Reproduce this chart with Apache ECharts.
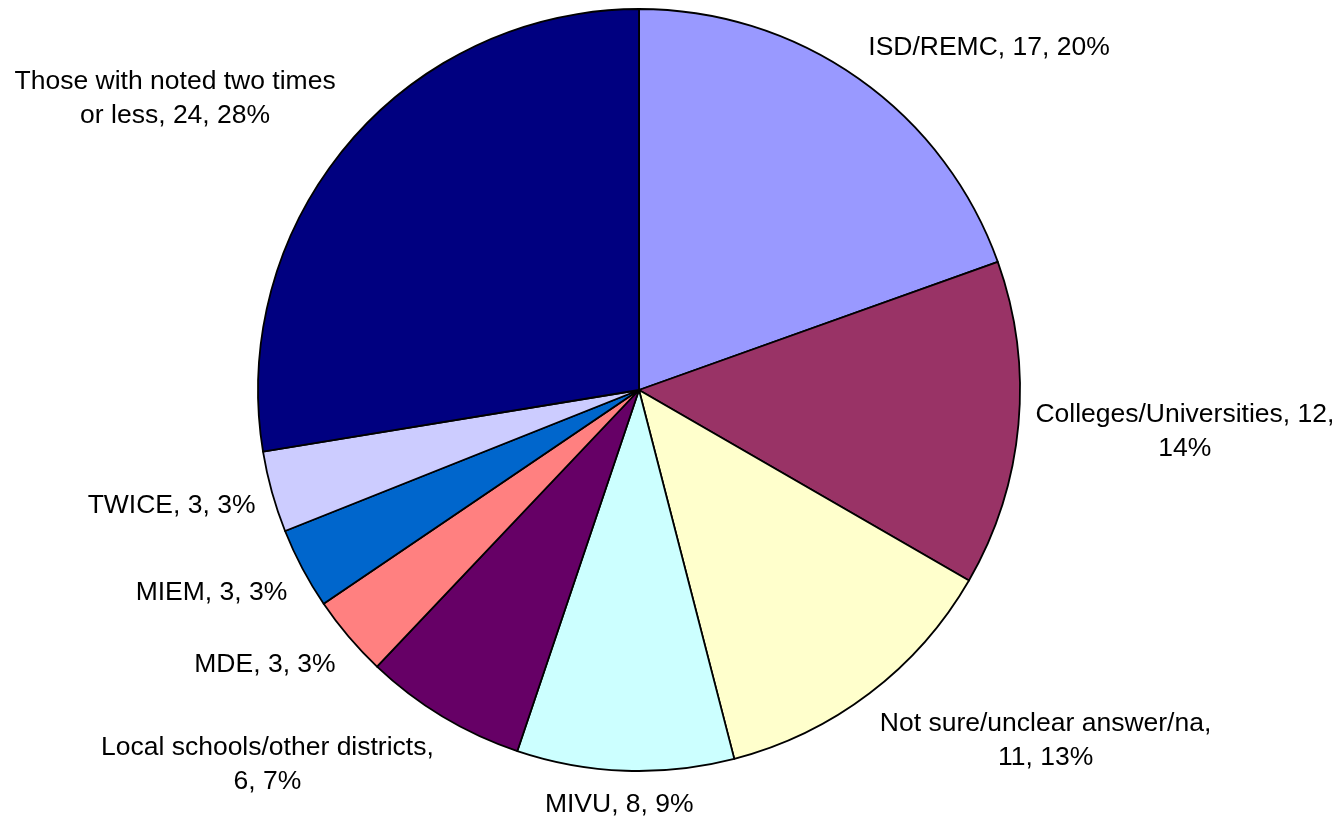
<!DOCTYPE html>
<html>
<head>
<meta charset="utf-8">
<script src="https://cdn.jsdelivr.net/npm/echarts@6/dist/echarts.min.js"></script>
<style>
html,body{margin:0;padding:0;background:#fff;}
#chart{width:1340px;height:820px;}
</style>
</head>
<body>
<div id="chart"></div>
<script>
// ---- data ----
var categories = [
  'ISD/REMC',
  'Colleges/Universities',
  'Not sure/unclear answer/na',
  'MIVU',
  'Local schools/other districts',
  'MDE',
  'MIEM',
  'TWICE',
  'Those with noted two times\nor less'
];
var values = [17, 12, 11, 8, 6, 3, 3, 3, 24];
// where the label wraps: 'none', 'value' (before value), 'pct' (before percent)
var labelBreaks = ['none', 'pct', 'value', 'none', 'value', 'none', 'none', 'none', 'none'];
var colors = ['#9999FF', '#993366', '#FFFFCC', '#CCFFFF', '#660066', '#FF8080', '#0066CC', '#CCCCFF', '#000080'];

var chart = echarts.init(document.getElementById('chart'), null, {renderer: 'canvas'});

var data = categories.map(function (c, i) {
  return {name: c, value: values[i], itemStyle: {color: colors[i]}};
});

function clampDir(v) { return Math.max(-1, Math.min(1, v * 2)); }

chart.setOption({
  animation: false,
  backgroundColor: '#ffffff',
  series: [{
    type: 'pie',
    center: [639, 390],
    radius: 381,
    startAngle: 90,
    clockwise: true,
    avoidLabelOverlap: false,
    data: data,
    itemStyle: {borderColor: '#000000', borderWidth: 1.8},
    emphasis: {disabled: true},
    label: {
      show: true,
      position: 'outside',
      color: '#000000',
      fontFamily: '"Liberation Sans", Arial, sans-serif',
      fontSize: 26.5,
      lineHeight: 34,
      align: 'center',
      formatter: function (p) {
        var b = labelBreaks[p.dataIndex];
        var s1 = b === 'value' ? ',\n' : ', ';
        var s2 = b === 'pct' ? ',\n' : ', ';
        return p.name + s1 + p.value + s2 + Math.round(p.percent) + '%';
      }
    },
    labelLine: {show: true, length: 17, length2: 1, lineStyle: {opacity: 0}},
    labelLayout: function (p) {
      var pts = p.labelLinePoints;
      if (!pts) return {};
      var dx = pts[1][0] - pts[0][0], dy = pts[1][1] - pts[0][1];
      var len = Math.sqrt(dx * dx + dy * dy) || 1;
      var ux = dx / len, uy = dy / len;
      var w = p.labelRect.width, h = p.labelRect.height;
      return {
        x: pts[1][0] + clampDir(ux) * w / 2,
        y: pts[1][1] + clampDir(uy) * h / 2,
        align: 'center',
        verticalAlign: 'middle'
      };
    }
  }]
});
</script>
</body>
</html>
